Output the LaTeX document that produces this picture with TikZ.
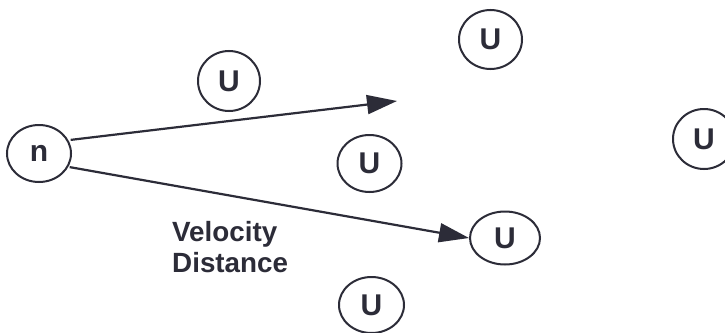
\documentclass[tikz,border=0pt]{standalone}
\usepackage{fontspec}
\setmainfont{Liberation Sans}
\usetikzlibrary{shapes.geometric,arrows.meta}
\definecolor{ink}{HTML}{2C2C38}
\tikzset{
  particle/.style={ellipse, draw=ink, line width=2pt, inner sep=0pt,
    text=ink, font=\fontsize{30}{30}\selectfont\bfseries},
  motion/.style={draw=ink, line width=2.2pt,
    -{Triangle[length=30pt,width=19pt]}},
}
\begin{document}
\begin{tikzpicture}[x=1pt,y=-1pt]
  \useasboundingbox (0,0) rectangle (725,332);
  \fill[white] (0,0) rectangle (725,332);
  % the moving neutron
  \node[particle, minimum width=64pt, minimum height=57pt] (n) at (39,153.5) {n};
  % surrounding uranium nuclei
  \node[particle, minimum width=62pt, minimum height=60pt] (u1) at (229,81) {U};
  \node[particle, minimum width=63pt, minimum height=59pt] (u2) at (490.5,39.5) {U};
  \node[particle, minimum width=64pt, minimum height=57pt] (u3) at (369.5,163.5) {U};
  \node[particle, minimum width=70pt, minimum height=53pt] (u4) at (505,238) {U};
  \node[particle, minimum width=65pt, minimum height=56pt] (u5) at (371.5,305) {U};
  \node[particle, minimum width=62pt, minimum height=60pt] (u6) at (704,139) {U};
  % possible paths of the neutron
  \coordinate (miss) at (397,101);
  \draw[motion] ([shift={(3pt,-1pt)}]n.27) -- (miss);
  \draw[motion] ([shift={(2pt,1pt)}]n.-27) -- (u4.west);
  \node[anchor=north west, inner sep=0pt, align=left, text=ink,
        font=\fontsize{27.8}{31}\selectfont\bfseries] (lbl) at (172,221)
        {Velocity\\Distance};
\end{tikzpicture}
\end{document}
